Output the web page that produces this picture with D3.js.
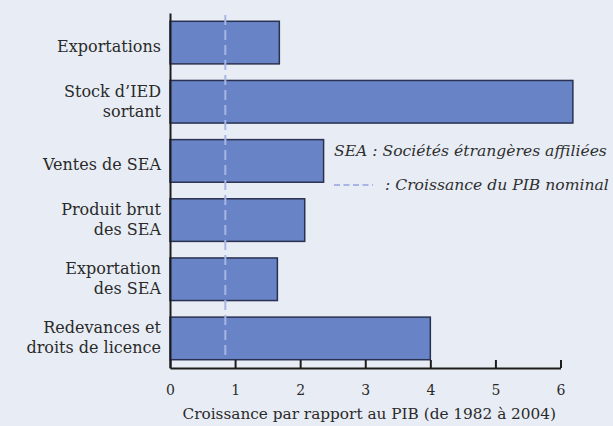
<!DOCTYPE html>
<html>
<head>
<meta charset="utf-8">
<script src="https://cdn.jsdelivr.net/npm/d3@7"></script>
<style>
  html, body { margin: 0; padding: 0; background: #e8edf5; overflow: hidden; }
  svg { display: block; font-family: 'DejaVu Serif', serif; }
  .bar { fill: #6884c7; stroke: #2a3150; stroke-width: 1.5; }
  .axis path, .axis line { stroke: #1c1c1c; stroke-width: 2; }
  .axis text { fill: #2a2a2a; font-family: 'DejaVu Serif', serif; }
  .catLabel { fill: #2a2a2a; font-size: 16px; }
  .title { fill: #2a2a2a; font-size: 15.3px; }
  .legend { fill: #2f2f2f; font-size: 15.6px; font-style: italic; }
  .pib { stroke: #a6b5e4; stroke-width: 2; stroke-dasharray: 10 5; fill: none; }
</style>
</head>
<body>
<svg id="chart"></svg>
<script>
var categories = ['Exportations', 'Stock d\u2019IED\nsortant', 'Ventes de SEA',
  'Produit brut\ndes SEA', 'Exportation\ndes SEA', 'Redevances et\ndroits de licence']
var values = [1.68, 6.19, 2.36, 2.07, 1.65, 4.0]
var pibGrowth = [0.85]
var tickValues = [0, 1, 2, 3, 4, 5, 6]
var xTitle = 'Croissance par rapport au PIB (de 1982 \u00e0 2004)'
var legendNote = 'SEA : Soci\u00e9t\u00e9s \u00e9trang\u00e8res affili\u00e9es'
var legendPib = ': Croissance du PIB nominal'

var svgWidth = 613
var svgHeight = 426
var svg = d3.select('#chart').attr('width', svgWidth).attr('height', svgHeight)

var x = d3.scaleLinear().domain([0, 6]).range([170, 560.5])
var y = d3.scaleBand().domain(categories).range([13, 368])
  .paddingInner(0.28).paddingOuter(0.14)

// Bars
svg.append('g').selectAll('rect')
  .data(values).enter().append('rect')
  .attr('class', 'bar')
  .attr('x', x(0))
  .attr('y', function(d, i) { return y(categories[i]) })
  .attr('width', function(d) { return x(d) - x(0) })
  .attr('height', y.bandwidth())

// Nominal GDP growth, dashed
svg.selectAll('line.pib')
  .data(pibGrowth).enter().append('line')
  .attr('class', 'pib')
  .attr('x1', function(d) { return x(d) }).attr('x2', function(d) { return x(d) })
  .attr('y1', y.range()[0] + 2).attr('y2', y.range()[1] - 8)

// Axes
var xAxis = d3.axisBottom(x).tickValues(tickValues).tickSizeInner(-8)
  .tickSizeOuter(0).tickPadding(17).tickFormat(d3.format('d'))
svg.append('g')
  .attr('class', 'axis')
  .attr('transform', 'translate(0 ' + y.range()[1] + ')')
  .call(xAxis)
  .selectAll('text').style('font-size', '14px')

var yAxis = d3.axisLeft(y).tickSize(0).tickSizeOuter(0).tickFormat('')
svg.append('g')
  .attr('class', 'axis')
  .attr('transform', 'translate(' + x(0) + ' 0)')
  .call(yAxis)

// Category labels, one or two lines
svg.append('g').selectAll('text')
  .data(categories).enter().append('text')
  .attr('class', 'catLabel')
  .attr('text-anchor', 'end')
  .each(function(cat) {
    var lines = cat.split('\n')
    var cy = y(cat) + y.bandwidth() / 2
    var first = lines.length == 1 ? cy + 9 : cy - 5
    var sel = d3.select(this)
    lines.forEach(function(str, i) {
      sel.append('tspan')
        .attr('x', x(0) - 9)
        .attr('y', first + i * 20)
        .text(str)
    })
  })

// Axis title
svg.append('text')
  .attr('class', 'title')
  .attr('text-anchor', 'middle')
  .attr('x', (x(0) + x(6)) / 2 + 4)
  .attr('y', 419)
  .text(xTitle)

// Legend
svg.append('text')
  .attr('class', 'legend')
  .attr('x', 334).attr('y', 156)
  .text(legendNote)
svg.append('line')
  .attr('class', 'pib')
  .attr('x1', 334).attr('x2', 373)
  .attr('y1', 185).attr('y2', 185)
  .style('stroke-dasharray', '6 3.5')
svg.append('text')
  .attr('class', 'legend')
  .attr('x', 385).attr('y', 190)
  .text(legendPib)
</script>
</body>
</html>
